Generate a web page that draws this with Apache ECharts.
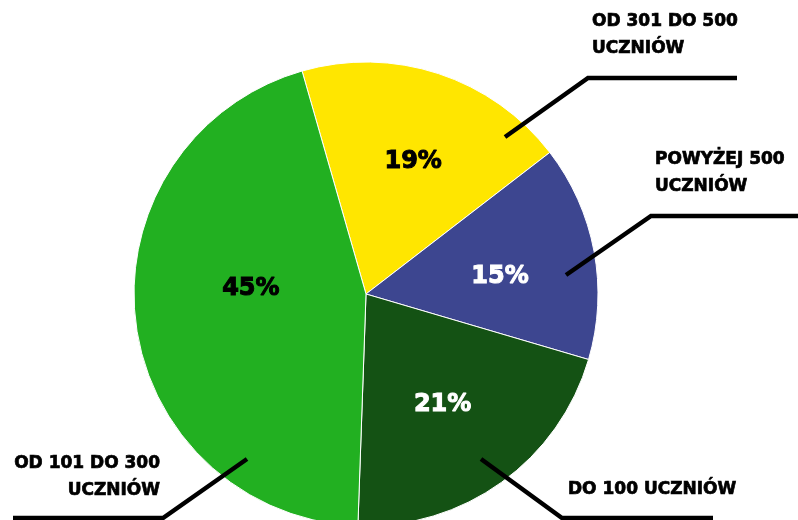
<!DOCTYPE html>
<html>
<head>
<meta charset="utf-8">
<script src="https://cdn.jsdelivr.net/npm/echarts@6/dist/echarts.min.js"></script>
<style>html,body{margin:0;padding:0;background:#fff}#c{width:798px;height:520px}</style>
</head>
<body>
<div id="c"></div>
<script>
// Data
const categories = ['OD 301 DO 500\nUCZNIÓW', 'POWYŻEJ 500\nUCZNIÓW', 'DO 100 UCZNIÓW', 'OD 101 DO 300\nUCZNIÓW'];
const values = [19, 15, 21, 45];
const colors = ['#FFE600', '#3D4690', '#145214', '#22B021'];
const pctColors = ['#000000', '#ffffff', '#ffffff', '#000000'];

// Layout (annotation placement, not data)
const innerOffsets = [[10, -19], [17, 5], [7, 14], [3, -20]];
const guides = [
  { pts: [[505, 137], [588, 78], [737, 78]], text: [592, 8], align: 'left' },
  { pts: [[566, 275], [651, 216], [798, 216]], text: [655, 146], align: 'left' },
  { pts: [[481, 459], [562, 518], [713, 518]], text: [568, 476], align: 'left' },
  { pts: [[247, 459], [163, 518], [13, 518]], text: [160, 450], align: 'right' }
];

const FONT = '"DejaVu Sans", sans-serif';
const chart = echarts.init(document.getElementById('c'), null, { renderer: 'canvas' });
const center = [366, 294];
const radius = 232;

chart.setOption({
  animation: false,
  backgroundColor: '#ffffff',
  series: [
    {
      type: 'pie',
      center: center,
      radius: radius,
      startAngle: 106,
      clockwise: true,
      avoidLabelOverlap: false,
      data: values.map((v, i) => ({
        name: categories[i],
        value: v,
        itemStyle: { color: colors[i] },
        label: { color: pctColors[i], textBorderColor: pctColors[i] }
      })),
      itemStyle: { borderColor: '#ffffff', borderWidth: 1 },
      label: {
        show: true,
        position: 'inside',
        formatter: p => p.value + '%',
        fontFamily: FONT,
        fontWeight: 'bold',
        fontSize: 24,
        textBorderWidth: 1
      },
      labelLine: { show: false },
      labelLayout: p => ({ dx: innerOffsets[p.dataIndex][0], dy: innerOffsets[p.dataIndex][1] }),
      emphasis: { disabled: true }
    },
    {
      type: 'pie',
      center: center,
      radius: radius,
      startAngle: 106,
      clockwise: true,
      silent: true,
      avoidLabelOverlap: false,
      z: 5,
      data: values.map((v, i) => ({ name: categories[i], value: v })),
      itemStyle: { color: 'rgba(0,0,0,0)', borderWidth: 0 },
      label: {
        show: true,
        position: 'outside',
        formatter: p => p.name,
        color: '#000000',
        textBorderColor: '#000000',
        textBorderWidth: 0.7,
        fontFamily: FONT,
        fontWeight: 'bold',
        fontSize: 17,
        lineHeight: 27
      },
      labelLine: { show: true, length: 20, length2: 20, smooth: false, lineStyle: { color: '#000000', width: 4.5 } },
      labelLayout: p => {
        const g = guides[p.dataIndex];
        return {
          x: g.text[0],
          y: g.text[1],
          align: g.align,
          verticalAlign: 'top',
          labelLinePoints: g.pts
        };
      },
      emphasis: { disabled: true }
    }
  ]
});
</script>
</body>
</html>
